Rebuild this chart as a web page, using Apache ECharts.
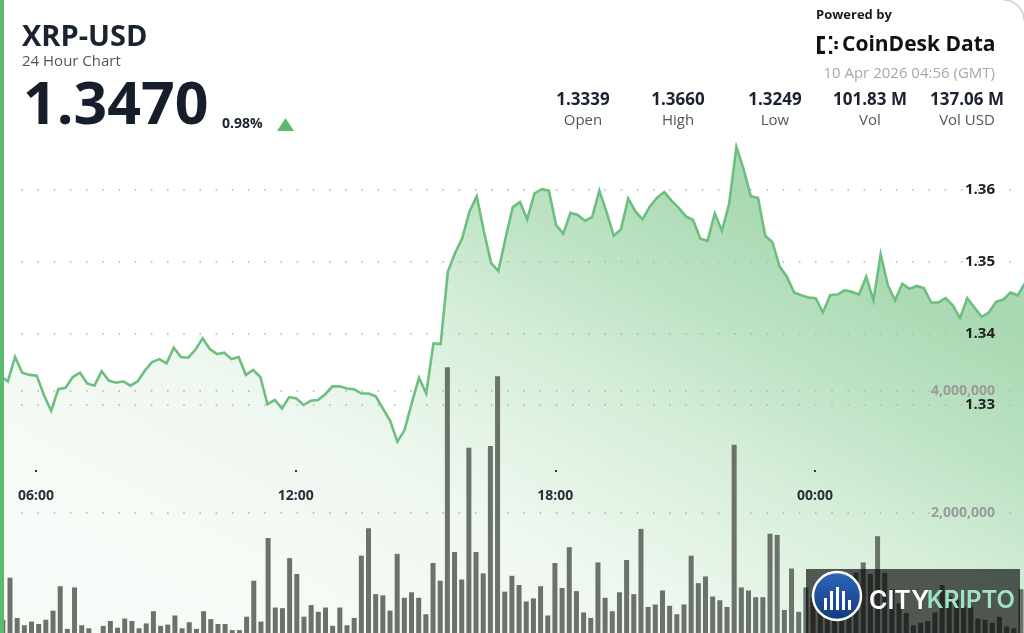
<!DOCTYPE html>
<html>
<head>
<meta charset="utf-8">
<script src="https://cdn.jsdelivr.net/npm/echarts@6/dist/echarts.min.js"></script>
<style>
html,body{margin:0;padding:0;background:#fff;}
#chart{width:1024px;height:633px;}
</style>
</head>
<body>
<div id="chart"></div>
<script>
// ---------- data ----------
const symbol = 'XRP-USD';
const subtitle = '24 Hour Chart';
const lastPrice = '1.3470';
const changePct = '0.98%';
const statValues = ['1.3339', '1.3660', '1.3249', '101.83 M', '137.06 M'];
const statLabels = ['Open', 'High', 'Low', 'Vol', 'Vol USD'];
const stampText = '10 Apr 2026 04:56 (GMT)';

// price every 10 minutes, first point at 05:11 (minutes since 00:00 of 9 Apr)
const priceStartMin = 311;
const priceStepMin = 10;
const prices = [
  1.3340, 1.3333, 1.3367, 1.3345, 1.3342, 1.3341, 1.3314, 1.3292, 1.3322, 1.3324,
  1.3339, 1.3345, 1.3330, 1.3327, 1.3347, 1.3334, 1.3331, 1.3333, 1.3327, 1.3333,
  1.3348, 1.3360, 1.3364, 1.3358, 1.3380, 1.3367, 1.3366, 1.3377, 1.3393, 1.3378,
  1.3371, 1.3373, 1.3364, 1.3367, 1.3342, 1.3349, 1.3339, 1.3301, 1.3307, 1.3295,
  1.3311, 1.3309, 1.3300, 1.3306, 1.3307, 1.3315, 1.3326, 1.3326, 1.3323, 1.3322,
  1.3316, 1.3316, 1.3312, 1.3295, 1.3278, 1.3249, 1.3265, 1.3303, 1.3338, 1.3316,
  1.3386, 1.3385, 1.3486, 1.3512, 1.3533, 1.3570, 1.3591, 1.3542, 1.3498, 1.3487,
  1.3533, 1.3576, 1.3583, 1.3559, 1.3595, 1.3601, 1.3599, 1.3551, 1.3539, 1.3568,
  1.3565, 1.3557, 1.3562, 1.3599, 1.3569, 1.3536, 1.3545, 1.3588, 1.3570, 1.3559,
  1.3577, 1.3589, 1.3597, 1.3585, 1.3575, 1.3563, 1.3558, 1.3532, 1.3529, 1.3567,
  1.3543, 1.3581, 1.3660, 1.3629, 1.3591, 1.3589, 1.3536, 1.3527, 1.3493, 1.3479,
  1.3457, 1.3453, 1.3450, 1.3449, 1.3429, 1.3453, 1.3454, 1.3460, 1.3458, 1.3454,
  1.3479, 1.3446, 1.3510, 1.3467, 1.3446, 1.3469, 1.3462, 1.3466, 1.3463, 1.3443,
  1.3443, 1.3449, 1.3439, 1.3421, 1.3449, 1.3436, 1.3423, 1.3429, 1.3444, 1.3447,
  1.3457, 1.3453, 1.3470
];

// volume per 10-minute bar, in millions
const volumeStartMin = 313;
const volumeStepMin = 10;
const volumesM = [
  0.25, 0.94, 0.28, 0.16, 0.22, 0.18, 0.25, 0.40, 0.80, 0.10,
  0.78, 0.16, 0.11, 0.02, 0.15, 0.23, 0.12, 0.27, 0.23, 0.11,
  0.19, 0.39, 0.15, 0.17, 0.32, 0.11, 0.21, 0.10, 0.39, 0.26,
  0.18, 0.18, 0.08, 0.08, 0.30, 0.89, 0.22, 1.59, 0.45, 0.44,
  1.26, 1.00, 0.30, 0.49, 0.38, 0.45, 0.15, 0.45, 0.16, 0.28,
  1.30, 1.75, 0.67, 0.65, 0.40, 1.33, 0.61, 0.70, 0.61, 0.34,
  1.18, 0.89, 4.39, 1.36, 0.91, 3.07, 1.36, 1.01, 3.10, 4.24,
  0.71, 0.97, 0.82, 0.55, 0.60, 0.80, 0.32, 1.18, 0.77, 1.44,
  0.72, 0.37, 0.28, 1.19, 0.61, 0.39, 0.70, 1.23, 0.67, 1.74,
  0.46, 0.50, 0.73, 0.48, 0.34, 0.50, 1.30, 0.85, 0.96, 0.63,
  0.57, 0.46, 3.12, 0.78, 0.73, 0.62, 0.62, 1.66, 1.64, 0.41,
  1.09, 0.38, 0.78, 0.62, 0.55, 0.48, 0.70, 0.85, 1.00, 1.02,
  1.19, 1.00, 1.62, 1.02, 0.75, 0.52, 0.36, 0.16, 0.20, 0.23,
  0.37, 0.82, 0.63, 0.58, 0.46, 0.46, 0.27, 0.25, 0.20, 0.30,
  0.14, 0.11, 0.75
];

const priceTicks = [1.33, 1.34, 1.35, 1.36];
const volumeTicksM = [2, 4];
const timeTickStepMin = 360;

// ---------- helpers ----------
function hhmm(min) {
  const m = ((Math.round(min) % 1440) + 1440) % 1440;
  const h = Math.floor(m / 60), mm = m % 60;
  return String(h).padStart(2, '0') + ':' + String(mm).padStart(2, '0');
}
const priceData = prices.map((p, k) => [priceStartMin + k * priceStepMin, p]);
const barCategories = volumesM.map((v, i) => hhmm(volumeStartMin + i * volumeStepMin));

const FONT = '"Open Sans", "Noto Sans", sans-serif';
const dotted = { color: '#b5b5b5', width: 1.6, type: [1.6, 14.6], dashOffset: 3 };

const chart = echarts.init(document.getElementById('chart'), null, { renderer: 'canvas' });

const statX = [583, 678, 775, 870, 967];
const graphics = [
  { type: 'rect', shape: { x: 0, y: 0, width: 4, height: 633 }, style: { fill: '#5cba6e' }, z: 100 },
  { type: 'text', style: { text: symbol, x: 22, y: 38, font: 'bold 29px ' + FONT, fill: '#1b2230', verticalAlign: 'middle' }, z: 100 },
  { type: 'text', style: { text: subtitle, x: 22, y: 62, font: '15px ' + FONT, fill: '#555', verticalAlign: 'middle' }, z: 100 },
  { type: 'text', style: { text: lastPrice, x: 23, y: 107, font: 'bold 59px ' + FONT, fill: '#161d2b', verticalAlign: 'middle' }, z: 100 },
  { type: 'text', style: { text: changePct, x: 222, y: 124, font: 'bold 14px ' + FONT, fill: '#1b2230', verticalAlign: 'middle' }, z: 100 },
  { type: 'polygon', shape: { points: [[277, 131], [294, 131], [285.5, 118]] }, style: { fill: '#5cba6e' }, z: 100 },
  { type: 'text', style: { text: 'Powered by', x: 816, y: 15, font: 'bold 13px ' + FONT, fill: '#1b1b1b', verticalAlign: 'middle' }, z: 100 },
  // CoinDesk mark
  { type: 'rect', shape: { x: 817, y: 36, width: 3.5, height: 18 }, style: { fill: '#111' }, z: 100 },
  { type: 'rect', shape: { x: 817, y: 36, width: 8, height: 3.2 }, style: { fill: '#111' }, z: 100 },
  { type: 'rect', shape: { x: 817, y: 50.8, width: 8, height: 3.2 }, style: { fill: '#111' }, z: 100 },
  { type: 'rect', shape: { x: 829, y: 36, width: 3.2, height: 3.2 }, style: { fill: '#111' }, z: 100 },
  { type: 'rect', shape: { x: 829, y: 50.8, width: 3.2, height: 3.2 }, style: { fill: '#111' }, z: 100 },
  { type: 'rect', shape: { x: 834.5, y: 41, width: 3.2, height: 3.2 }, style: { fill: '#111' }, z: 100 },
  { type: 'rect', shape: { x: 834.5, y: 46, width: 3.2, height: 3.2 }, style: { fill: '#111' }, z: 100 },
  { type: 'text', style: { text: 'CoinDesk Data', x: 842, y: 45, font: 'bold 21px ' + FONT, fill: '#111', verticalAlign: 'middle' }, z: 100 },
  { type: 'text', style: { text: stampText, x: 995, y: 74, font: '15px ' + FONT, fill: '#a8a8a8', align: 'right', verticalAlign: 'middle' }, z: 100 },
  // corner arc
  { type: 'arc', shape: { cx: 1004, cy: 20, r: 20, startAngle: -Math.PI / 2, endAngle: 0 }, style: { stroke: '#cfcfcf', lineWidth: 1.5, fill: null }, z: 100 }
];
statValues.forEach((v, i) => {
  graphics.push({ type: 'text', style: { text: v, x: statX[i], y: 100, font: 'bold 17px ' + FONT, fill: '#1b2230', align: 'center', verticalAlign: 'middle' }, z: 100 });
  graphics.push({ type: 'text', style: { text: statLabels[i], x: statX[i], y: 121, font: '15px ' + FONT, fill: '#555', align: 'center', verticalAlign: 'middle' }, z: 100 });
});
// CITYKRIPTO watermark
graphics.push(
  { type: 'rect', shape: { x: 806, y: 569, width: 214, height: 64 }, style: { fill: 'rgba(0,0,0,0.64)' }, z: 200 },
  { type: 'circle', shape: { cx: 837, cy: 596, r: 24 }, style: {
      fill: new echarts.graphic.LinearGradient(0, 0, 0, 1, [{ offset: 0, color: '#2d67bd' }, { offset: 1, color: '#133a7a' }]),
      stroke: '#ffffff', lineWidth: 2.5 }, z: 201 },
  { type: 'rect', shape: { x: 824, y: 598, width: 3, height: 12 }, style: { fill: '#fff' }, z: 202 },
  { type: 'rect', shape: { x: 830, y: 591, width: 3, height: 19 }, style: { fill: '#fff' }, z: 202 },
  { type: 'rect', shape: { x: 836, y: 587, width: 3, height: 23 }, style: { fill: '#fff' }, z: 202 },
  { type: 'rect', shape: { x: 842, y: 591, width: 3, height: 19 }, style: { fill: '#fff' }, z: 202 },
  { type: 'rect', shape: { x: 848, y: 600, width: 3, height: 10 }, style: { fill: '#fff' }, z: 202 },
  { type: 'text', style: { text: 'CITY', x: 869, y: 601, font: '600 25px Inter, sans-serif', fill: '#ffffff', verticalAlign: 'middle' }, z: 202 },
  { type: 'text', style: { text: 'KRIPTO', x: 1015, y: 601, font: '600 24px Inter, sans-serif', fill: '#9fe3c9', align: 'right', verticalAlign: 'middle' }, z: 202 }
);

const gridBase = { outerBoundsMode: 'none', containLabel: false };
const option = {
  backgroundColor: '#ffffff',
  animation: false,
  grid: [
    Object.assign({ left: -223.7, right: -50.7, top: 118.2, bottom: -58.8 }, gridBase),   // 0 price series
    Object.assign({ left: 8, right: 0, top: 190, bottom: 228 }, gridBase),                 // 1 price labels + grid
    Object.assign({ left: -0.755, right: -0.56, top: 269, bottom: -2 }, gridBase),         // 2 volume bars
    Object.assign({ left: 8, right: 0, top: 391, bottom: -2 }, gridBase),                  // 3 volume labels + grid
    Object.assign({ left: -223.7, right: -50.7, top: 100, bottom: 163 }, gridBase)         // 4 time labels
  ],
  xAxis: [
    { gridIndex: 0, type: 'value', min: 0, max: 1800, show: false },
    { gridIndex: 1, type: 'value', min: 0, max: 1, show: false },
    { gridIndex: 2, type: 'category', data: barCategories, show: false, boundaryGap: true },
    { gridIndex: 3, type: 'value', min: 0, max: 1, show: false },
    { gridIndex: 4, type: 'value', min: 0, max: 1800, interval: timeTickStepMin, position: 'bottom', z: 5,
      axisLine: { show: false },
      axisTick: { show: true, length: 2, lineStyle: { color: '#333', width: 2 } },
      splitLine: { show: false },
      axisLabel: { margin: 19, color: '#2a2f3a', fontSize: 14, fontWeight: 'bold', fontFamily: FONT,
        formatter: v => hhmm(v) } }
  ],
  yAxis: [
    { gridIndex: 0, type: 'value', min: 1.29, max: 1.37, show: false },
    { gridIndex: 1, type: 'value', min: priceTicks[0], max: priceTicks[priceTicks.length - 1], interval: 0.01,
      position: 'right', z: 3,
      axisLine: { show: false }, axisTick: { show: false },
      axisLabel: { inside: true, margin: 29, color: '#222', fontSize: 15, fontWeight: 'bold', fontFamily: FONT,
        formatter: v => v.toFixed(2) },
      splitLine: { show: true, lineStyle: dotted } },
    { gridIndex: 2, type: 'value', min: 0, max: 6, show: false },
    { gridIndex: 3, type: 'value', min: 0, max: volumeTicksM[volumeTicksM.length - 1], interval: 2,
      position: 'right', z: 3,
      axisLine: { show: false }, axisTick: { show: false },
      axisLabel: { inside: true, margin: 29, color: '#9b9b9b', fontSize: 14, fontWeight: 'bold', fontFamily: FONT,
        showMinLabel: false, formatter: v => (v * 1e6).toLocaleString('en-US') },
      splitLine: { show: true, showMinLine: false, lineStyle: dotted } },
    { gridIndex: 4, type: 'value', show: false }
  ],
  series: [
    {
      type: 'line', xAxisIndex: 0, yAxisIndex: 0, data: priceData, symbol: 'none', z: 2,
      lineStyle: { color: '#6cbf7f', width: 2.6, join: 'miter' },
      areaStyle: {
        origin: 'start',
        color: new echarts.graphic.LinearGradient(0.64, 0, 0.36, 1, [
          { offset: 0, color: '#84c891' },
          { offset: 0.2, color: '#a2d7ab' },
          { offset: 0.4, color: '#c6e7cb' },
          { offset: 0.65, color: '#e7f4e9' },
          { offset: 1, color: '#f4faf4' }
        ])
      }
    },
    {
      type: 'bar', xAxisIndex: 2, yAxisIndex: 2, data: volumesM, barWidth: 5, z: 4,
      itemStyle: { color: '#6a726a' }
    }
  ],
  graphic: graphics
};
chart.setOption(option);
</script>
</body>
</html>
